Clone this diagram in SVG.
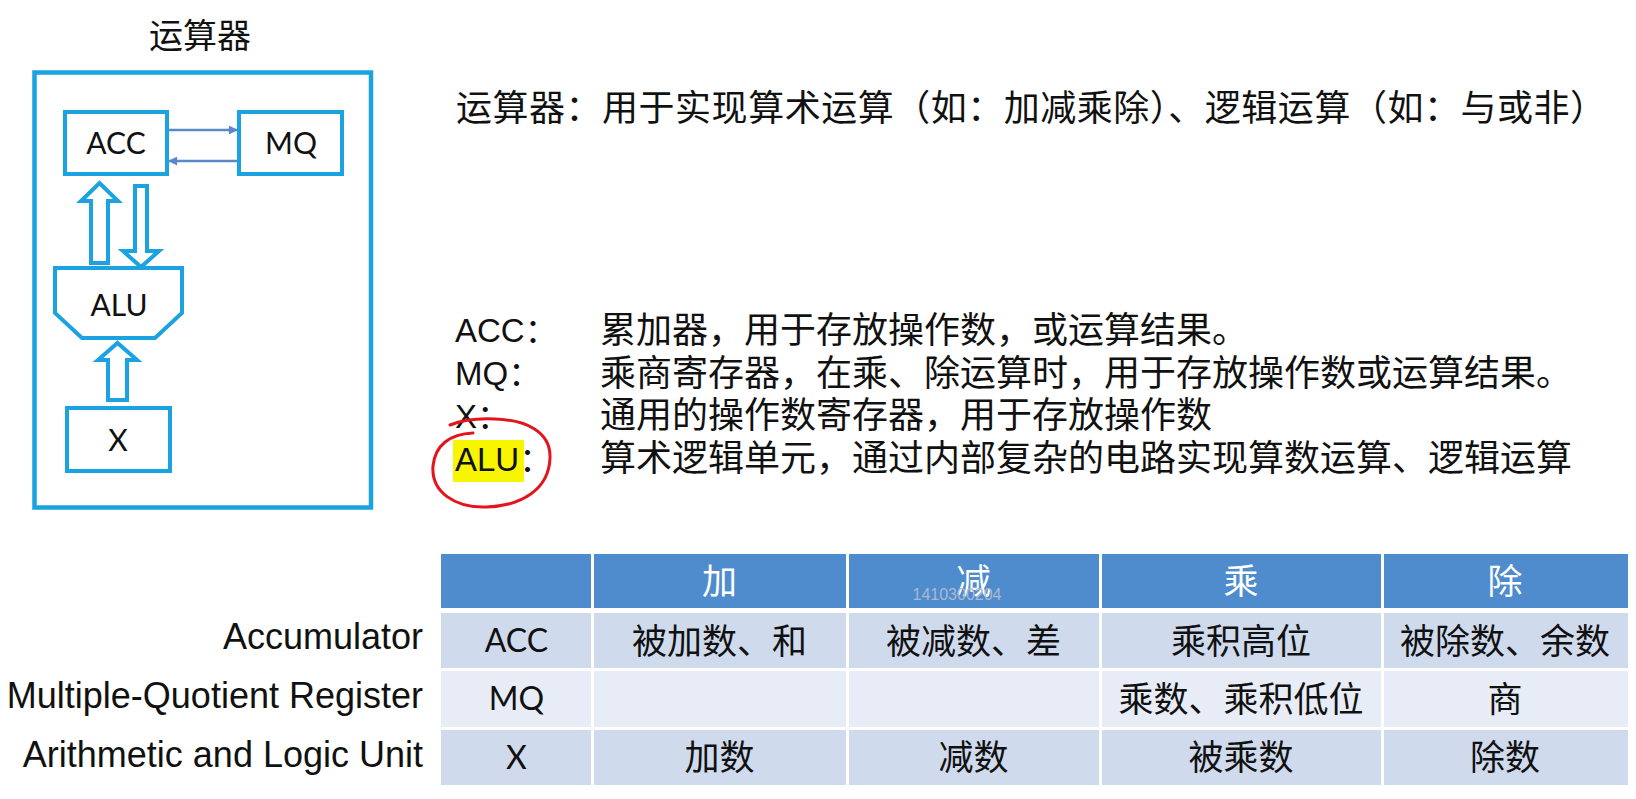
<svg xmlns="http://www.w3.org/2000/svg" width="1636" height="799" viewBox="0 0 1636 799">
<style>
.blue{fill:#ffffff;stroke:#1aa3e0;stroke-width:4}
.lat{font-family:Lato,"Open Sans","Noto Sans",sans-serif;fill:#111}
.ar{font-family:"Liberation Sans",Arial,"Noto Sans CJK SC",sans-serif;fill:#111}
.cjk{font-family:"Noto Sans CJK SC","Liberation Sans",sans-serif;fill:#111}
.link{stroke:#5b88c9;stroke-width:2.5;fill:none}
.hdr{fill:#4f8ccd}
.r1{fill:#cfdaec}
.r2{fill:#e8ecf6}
.ht{font-family:"Noto Sans CJK SC",sans-serif;fill:#ffffff;font-size:35px;text-anchor:middle}
.ct{font-family:"Noto Sans CJK SC",sans-serif;fill:#111;font-size:35px;text-anchor:middle}
.cl{font-family:Lato,"Open Sans",sans-serif;fill:#111;font-size:32px;text-anchor:middle}
</style>
<defs>
<marker id="ah" viewBox="0 0 10 10" refX="9" refY="5" markerWidth="12" markerHeight="9" markerUnits="userSpaceOnUse" orient="auto">
<path d="M0,0 L10,5 L0,10 Z" fill="#5b88c9"/>
</marker>
</defs>
<rect width="1636" height="799" fill="#ffffff"/>

<text class="cjk" x="200" y="48" font-size="34" text-anchor="middle">运算器</text>

<g id="unit">
<rect x="34.5" y="72.5" width="336.5" height="435" fill="none" stroke="#1aa3e0" stroke-width="4.5"/>
</g>

<g id="connectors">
<line class="link" x1="169" y1="130" x2="237" y2="130" marker-end="url(#ah)"/>
<line class="link" x1="237" y1="161" x2="169" y2="161" marker-end="url(#ah)"/>
<path class="blue" d="M91,263 L91,201 L81,201 L99.5,183 L118,201 L108,201 L108,263 Z" stroke-width="3.5"/>
<path class="blue" d="M135,186 L147,186 L147,251 L159,251 L141,267 L123,251 L135,251 Z" stroke-width="3.5"/>
<path class="blue" d="M108,400 L108,360 L98,360 L117.5,343 L137,360 L127,360 L127,400 Z" stroke-width="3.5"/>
</g>

<g id="acc">
<rect class="blue" x="65" y="112" width="102" height="62"/>
<text class="lat" x="116" y="154" font-size="30" text-anchor="middle">ACC</text>
</g>
<g id="mq">
<rect class="blue" x="239" y="112" width="103" height="62"/>
<text class="lat" x="291" y="154" font-size="30" text-anchor="middle">MQ</text>
</g>
<g id="alu">
<path class="blue" d="M55,268 L182,268 L182,313 L155,338 L82,338 L55,313 Z"/>
<text class="lat" x="119" y="316" font-size="30" text-anchor="middle">ALU</text>
</g>
<g id="x">
<rect class="blue" x="67" y="408" width="103" height="63"/>
<text class="lat" x="118" y="451" font-size="30" text-anchor="middle">X</text>
</g>

<g id="desc">
<text class="cjk" x="456" y="121" font-size="36" textLength="1150" lengthAdjust="spacing">运算器：用于实现算术运算（如：加减乘除）、逻辑运算（如：与或非）</text>
<rect x="453" y="440" width="71" height="42" fill="#f7f500"/>
<text class="ar" x="455" y="342" font-size="33">ACC：</text>
<text class="ar" x="455" y="385" font-size="33">MQ：</text>
<text class="ar" x="455" y="428" font-size="33">X：</text>
<text class="ar" x="455" y="471" font-size="33">ALU：</text>
<text class="cjk" x="600" y="343" font-size="36">累加器，用于存放操作数，或运算结果。</text>
<text class="cjk" x="600" y="386" font-size="36">乘商寄存器，在乘、除运算时，用于存放操作数或运算结果。</text>
<text class="cjk" x="600" y="428" font-size="36">通用的操作数寄存器，用于存放操作数</text>
<text class="cjk" x="600" y="471" font-size="36">算术逻辑单元，通过内部复杂的电路实现算数运算、逻辑运算</text>
<path d="M473,433 C450,434 435,445 433,466 C431,492 455,508 486,507 C522,506 549,489 550,458 C551,431 525,420 495,419 C475,418 460,421 450,425" fill="none" stroke="#e3141c" stroke-width="3" stroke-linecap="round"/>
</g>

<g id="table">
<rect class="hdr" x="441" y="554" width="150" height="54"/>
<rect class="hdr" x="594" y="554" width="252" height="54"/>
<rect class="hdr" x="849" y="554" width="250" height="54"/>
<rect class="hdr" x="1102" y="554" width="279" height="54"/>
<rect class="hdr" x="1384" y="554" width="244" height="54"/>
<rect class="r1" x="441" y="613" width="150" height="55"/>
<rect class="r1" x="594" y="613" width="252" height="55"/>
<rect class="r1" x="849" y="613" width="250" height="55"/>
<rect class="r1" x="1102" y="613" width="279" height="55"/>
<rect class="r1" x="1384" y="613" width="244" height="55"/>
<rect class="r2" x="441" y="671" width="150" height="56"/>
<rect class="r2" x="594" y="671" width="252" height="56"/>
<rect class="r2" x="849" y="671" width="250" height="56"/>
<rect class="r2" x="1102" y="671" width="279" height="56"/>
<rect class="r2" x="1384" y="671" width="244" height="56"/>
<rect class="r1" x="441" y="730" width="150" height="55"/>
<rect class="r1" x="594" y="730" width="252" height="55"/>
<rect class="r1" x="849" y="730" width="250" height="55"/>
<rect class="r1" x="1102" y="730" width="279" height="55"/>
<rect class="r1" x="1384" y="730" width="244" height="55"/>

<text class="ht" x="719.5" y="594">加</text>
<text class="ht" x="973.5" y="594">减</text>
<text class="ht" x="1241" y="594">乘</text>
<text class="ht" x="1505" y="594">除</text>
<text x="957" y="600" font-family="'Liberation Sans',Arial,sans-serif" font-size="16" fill="#a9b9cf" text-anchor="middle">1410300204</text>

<text class="cl" x="516.5" y="652">ACC</text>
<text class="cl" x="516.5" y="710">MQ</text>
<text class="cl" x="516.5" y="769">X</text>

<text class="ct" x="719.5" y="654">被加数、和</text>
<text class="ct" x="973.5" y="654">被减数、差</text>
<text class="ct" x="1241" y="654">乘积高位</text>
<text class="ct" x="1505" y="654">被除数、余数</text>
<text class="ct" x="1241" y="712">乘数、乘积低位</text>
<text class="ct" x="1505" y="712">商</text>
<text class="ct" x="719.5" y="770">加数</text>
<text class="ct" x="973.5" y="770">减数</text>
<text class="ct" x="1241" y="770">被乘数</text>
<text class="ct" x="1505" y="770">除数</text>

<text class="ar" x="423" y="649" font-size="36" text-anchor="end">Accumulator</text>
<text class="ar" x="423" y="708" font-size="36" text-anchor="end">Multiple-Quotient Register</text>
<text class="ar" x="423" y="767" font-size="36" text-anchor="end">Arithmetic and Logic Unit</text>
</g>
</svg>
